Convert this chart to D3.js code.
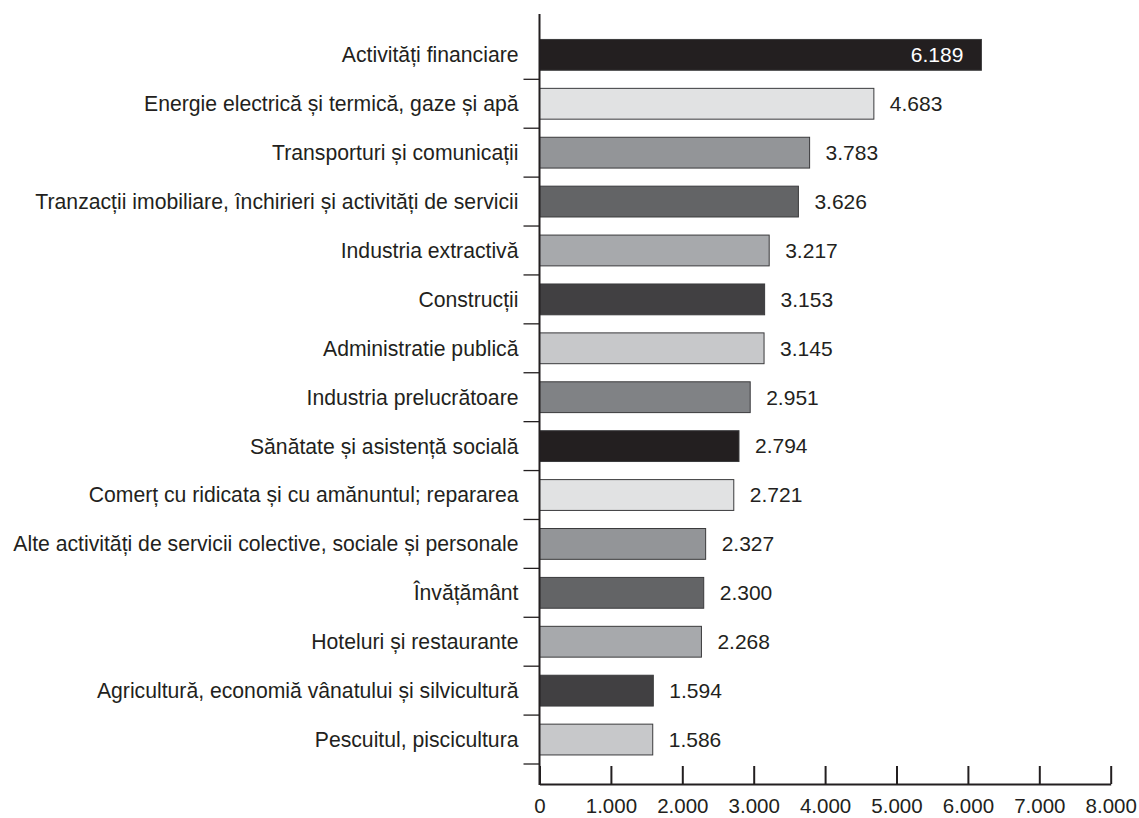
<!DOCTYPE html>
<html>
<head>
<meta charset="utf-8" />
<title>Activitati</title>
<script src="https://d3js.org/d3.v7.min.js"></script>
<style>
  body { margin: 0; background: #fff; }
  text { font-family: "Liberation Sans", Arial, sans-serif; fill: #231f20; }
</style>
</head>
<body>
<script>
    var categories = [
        'Activități financiare',
        'Energie electrică și termică, gaze și apă',
        'Transporturi și comunicații',
        'Tranzacții imobiliare, închirieri și activități de servicii',
        'Industria extractivă',
        'Construcții',
        'Administratie publică',
        'Industria prelucrătoare',
        'Sănătate și asistență socială',
        'Comerț cu ridicata și cu amănuntul; repararea',
        'Alte activități de servicii colective, sociale și personale',
        'Învățământ',
        'Hoteluri și restaurante',
        'Agricultură, economiă vânatului și silvicultură',
        'Pescuitul, piscicultura'
    ];
    var values = [6189, 4683, 3783, 3626, 3217, 3153, 3145, 2951, 2794, 2721, 2327, 2300, 2268, 1594, 1586];
    var tickValues = [0, 1000, 2000, 3000, 4000, 5000, 6000, 7000, 8000];
    var colors = ['#231f20', '#e1e2e3', '#939598', '#636466', '#a7a9ac', '#414042', '#c7c8ca', '#808285'];

    var width = 1139, height = 818
        , x0 = 539.5, x1 = 1110.7
        , bandTop = 30.4, bandBottom = 764
        , axisY = 784, axisTop = 14
        , fmt = d3.format(',d');

    var svg = d3.select('body').append('svg')
        .attr('width', width)
        .attr('height', height);

    var x = d3.scaleLinear().domain([0, 8000]).range([x0, x1]);

    var y = d3.scaleBand()
        .domain(categories)
        .range([bandTop, bandBottom])
        .paddingInner(0.37)
        .paddingOuter(0.185);

    // bars
    svg.append('g').selectAll('rect')
        .data(values)
        .enter()
        .append('rect')
        .attr('x', x(0))
        .attr('y', (d, i) => y(categories[i]))
        .attr('width', d => x(d) - x(0))
        .attr('height', y.bandwidth())
        .attr('fill', (d, i) => colors[i % colors.length])
        .attr('stroke', '#3a3a3c')
        .attr('stroke-width', 1);

    // value labels (first one inside the bar, white)
    svg.append('g').selectAll('text')
        .data(values)
        .enter()
        .append('text')
        .attr('x', (d, i) => i === 0 ? x(d) - 18 : x(d) + 16)
        .attr('y', (d, i) => y(categories[i]) + y.bandwidth() / 2)
        .attr('dy', '0.35em')
        .attr('text-anchor', (d, i) => i === 0 ? 'end' : 'start')
        .style('font-size', '21px')
        .style('fill', (d, i) => i === 0 ? '#ffffff' : '#231f20')
        .text(d => fmt(d).replace(/,/g, '.'));

    // category labels
    svg.append('g').selectAll('text')
        .data(categories)
        .enter()
        .append('text')
        .attr('x', x0 - 21)
        .attr('y', d => y(d) + y.bandwidth() / 2)
        .attr('dy', '0.35em')
        .attr('text-anchor', 'end')
        .style('font-size', '21.2px')
        .text(d => d);

    // category ticks on the left of the axis
    var step = y.step();
    svg.append('g').selectAll('line')
        .data(categories)
        .enter()
        .append('line')
        .attr('x1', x0 - 16)
        .attr('x2', x0)
        .attr('y1', (d, i) => bandTop + step * (i + 1))
        .attr('y2', (d, i) => bandTop + step * (i + 1))
        .attr('stroke', '#231f20')
        .attr('stroke-width', 1.3);

    // vertical axis line
    svg.append('line')
        .attr('x1', x0).attr('x2', x0)
        .attr('y1', axisTop).attr('y2', axisY + 1)
        .attr('stroke', '#231f20')
        .attr('stroke-width', 2);

    // x axis
    var ax = d3.axisBottom(x)
        .tickValues(tickValues)
        .tickSizeInner(-18)
        .tickSizeOuter(0)
        .tickPadding(0)
        .tickFormat(d => fmt(d).replace(/,/g, '.'));

    var gx = svg.append('g')
        .attr('transform', `translate(0,${axisY})`)
        .call(ax);

    gx.select('.domain').attr('stroke', '#231f20').attr('stroke-width', 2);
    gx.selectAll('.tick line').attr('stroke', '#231f20').attr('stroke-width', 2);
    gx.selectAll('.tick text')
        .attr('y', 22)
        .attr('dy', '0.35em')
        .style('font-size', '20.5px')
        .style('font-family', '"Liberation Sans", Arial, sans-serif')
        .attr('fill', '#231f20');
</script>
</body>
</html>
